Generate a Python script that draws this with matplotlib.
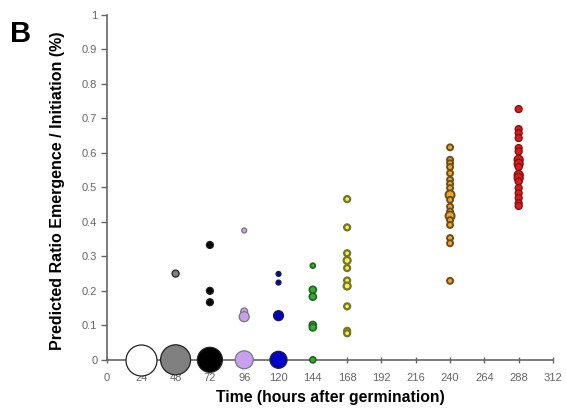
import numpy as np
import matplotlib.pyplot as plt

plt.rcParams['font.family'] = ['Liberation Sans', 'DejaVu Sans']

# hours after germination, one group per time point
times = [24, 48, 72, 96, 120, 144, 168, 240, 288]
colors = ['#ffffff', '#808080', '#000000', '#c9a0f0', '#0000cc',
          '#2fae2f', '#f2f24a', '#f2a526', '#e01818']

# (value, diameter in px) per group
groups = {
    24: [(0.0, 31)],
    48: [(0.0, 30), (0.25, 7)],
    72: [(0.0, 25), (0.333, 7), (0.2, 7), (0.167, 7)],
    96: [(0.0, 18), (0.375, 5), (0.14, 7), (0.125, 10)],
    120: [(0.0, 17), (0.128, 10), (0.249, 5), (0.224, 5)],
    144: [(0.0, 6), (0.273, 5), (0.203, 7), (0.183, 7), (0.101, 7), (0.094, 7)],
    168: [(0.466, 6), (0.384, 6), (0.309, 6), (0.288, 7), (0.266, 6),
          (0.23, 6), (0.214, 7), (0.155, 6), (0.084, 6), (0.077, 6)],
    240: [(0.616, 6), (0.58, 6), (0.57, 6), (0.559, 6), (0.541, 6),
          (0.522, 6), (0.51, 6), (0.498, 6), (0.478, 9), (0.464, 6),
          (0.444, 6), (0.43, 6), (0.417, 9), (0.405, 6), (0.391, 6),
          (0.353, 6), (0.338, 6), (0.229, 6)],
    288: [(0.727, 7), (0.669, 7), (0.657, 7), (0.643, 7), (0.614, 7),
          (0.604, 7), (0.58, 9), (0.568, 9), (0.559, 7), (0.536, 9),
          (0.527, 9), (0.517, 7), (0.498, 7), (0.483, 7), (0.469, 7),
          (0.454, 7), (0.446, 7)],
}
edges = {96: '#777777', 144: '#226622', 168: '#75752a', 240: '#6a5020', 288: '#801010'}
widths = {168: 1.6, 240: 1.4, 144: 1.2}

fig = plt.figure(figsize=(5.66, 4.15), dpi=100)
ax = fig.add_axes([0.189, 0.133, 0.788, 0.831])

for t, c in zip(times, colors):
    vals = [v for v, d in groups[t]]
    sizes = [(d * 0.72) ** 2 for v, d in groups[t]]
    ec = edges.get(t, '#222222')
    ax.scatter([t] * len(vals), vals, s=sizes, c=c, edgecolors=ec,
               linewidths=widths.get(t, 0.9), zorder=3, clip_on=False)

ax.set_xlim(0, 312)
ax.set_ylim(0, 1)
ax.set_xticks(np.arange(0, 313, 24))
ax.set_yticks(np.arange(0, 1.01, 0.1))
ax.set_yticklabels(['0', '0.1', '0.2', '0.3', '0.4', '0.5', '0.6', '0.7', '0.8', '0.9', '1'])
for s in ['top', 'right']:
    ax.spines[s].set_visible(False)
for s in ['left', 'bottom']:
    ax.spines[s].set_color('#666666')
    ax.spines[s].set_linewidth(1.2)
ax.tick_params(colors='#666666', labelsize=8, length=4, width=1)
ax.tick_params(axis='x', direction='inout', length=5, pad=7)
ax.tick_params(axis='y', pad=3)

ax.set_xlabel('Time (hours after germination)', fontsize=11.3, fontweight='bold', labelpad=5)
ax.set_ylabel('Predicted Ratio Emergence / Initiation (%)', fontsize=11.5, fontweight='bold')
ax.yaxis.set_label_coords(-0.094, 0.49)
fig.text(0.018, 0.899, 'B', fontsize=21, fontweight='bold')

fig.savefig('out.png', dpi=100)
